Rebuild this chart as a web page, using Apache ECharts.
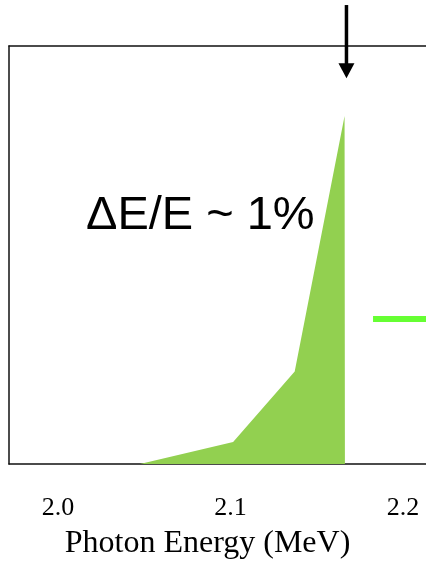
<!DOCTYPE html>
<html>
<head>
<meta charset="utf-8">
<script src="https://cdn.jsdelivr.net/npm/echarts@6/dist/echarts.min.js"></script>
<style>
html,body{margin:0;padding:0;background:#fff;}
#chart{width:426px;height:563px;}
</style>
</head>
<body>
<div id="chart"></div>
<script>
// Data
const xTickValues = [2.0, 2.1, 2.2];
const spectrumX = [2.0475, 2.1015, 2.1372, 2.1661, 2.1663];
const spectrumY = [0, 5.26, 22.1, 83.25, 0];
const markerLineX = [2.1826, 2.22];
const markerLineY = [34.7, 34.7];
const arrowX = 2.1672;
const arrowFromY = 109.8;
const arrowToY = 92.3;
const annotation = 'ΔE/E ~ 1%';
const xName = 'Photon Energy (MeV)';
const xMin = 1.9716, xMax = 2.2133, yMin = 0, yMax = 100;

const spectrum = spectrumX.map((x, i) => [x, spectrumY[i]]);
const markerLine = markerLineX.map((x, i) => [x, markerLineY[i]]);

const chart = echarts.init(document.getElementById('chart'), null, {renderer: 'canvas'});
const axisLineStyle = {color: '#111', width: 1.5};
chart.setOption({
  animation: false,
  backgroundColor: '#fff',
  grid: {left: 9, right: 0, top: 46, bottom: 99, containLabel: false, outerBoundsMode: 'none'},
  xAxis: [{
    type: 'value', min: xMin, max: xMax, position: 'bottom',
    axisLine: {show: true, onZero: false, lineStyle: axisLineStyle},
    axisTick: {show: false},
    splitLine: {show: false},
    axisLabel: {
      customValues: xTickValues,
      formatter: v => v.toFixed(1),
      fontFamily: 'Liberation Serif', fontSize: 26, color: '#000', margin: 31
    },
    name: xName, nameLocation: 'middle', nameGap: 64,
    nameTextStyle: {fontFamily: 'Liberation Serif', fontSize: 32, color: '#000', padding: [0, 20, 0, 0]}
  }, {
    type: 'value', min: xMin, max: xMax, position: 'top',
    axisLine: {show: true, onZero: false, lineStyle: axisLineStyle},
    axisTick: {show: false}, axisLabel: {show: false}, splitLine: {show: false}
  }],
  yAxis: {
    type: 'value', min: yMin, max: yMax,
    axisLine: {show: true, onZero: false, lineStyle: axisLineStyle},
    axisTick: {show: false}, axisLabel: {show: false}, splitLine: {show: false}
  },
  series: [{
    type: 'line', data: spectrum, symbol: 'none',
    lineStyle: {width: 0, color: '#92d050'},
    areaStyle: {color: '#92d050', opacity: 1},
    z: 1
  }, {
    type: 'line', data: markerLine, symbol: 'none',
    lineStyle: {width: 6, color: '#66ff33'}, clip: true, z: 3
  }, {
    type: 'custom', clip: false, z: 5,
    data: [[arrowX, arrowFromY, arrowToY]],
    encode: {x: 0, y: [1, 2]},
    renderItem: function (params, api) {
      const p0 = api.coord([api.value(0), api.value(1)]);
      const p1 = api.coord([api.value(0), api.value(2)]);
      const headLen = 15, headHalf = 8;
      return {
        type: 'group',
        children: [{
          type: 'line',
          shape: {x1: p0[0], y1: p0[1], x2: p1[0], y2: p1[1] - headLen + 2},
          style: {stroke: '#000', lineWidth: 3.5}
        }, {
          type: 'polygon',
          shape: {points: [[p1[0] - headHalf, p1[1] - headLen], [p1[0] + headHalf, p1[1] - headLen], [p1[0], p1[1]]]},
          style: {fill: '#000'}
        }]
      };
    }
  }],
  graphic: [{
    type: 'text', left: 86, top: 193, z: 10,
    style: {text: annotation, fontFamily: 'Liberation Sans', fontSize: 47, fill: '#000'}
  }]
});
</script>
</body>
</html>
